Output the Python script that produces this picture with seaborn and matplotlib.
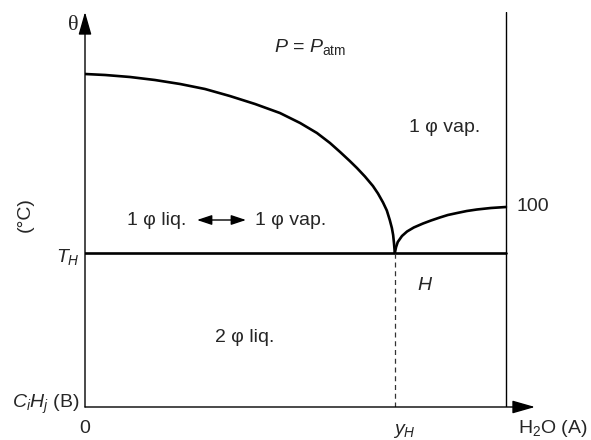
import numpy as np
import matplotlib
matplotlib.use('Agg')
import matplotlib.pyplot as plt
import seaborn as sns

sns.set_theme(style='white')
plt.rcParams['font.family'] = ['Liberation Sans', 'DejaVu Sans']
plt.rcParams['mathtext.fontset'] = 'custom'
plt.rcParams['mathtext.rm'] = 'Liberation Sans'
plt.rcParams['mathtext.it'] = 'Liberation Sans:italic'

# composition x (fraction of water, 0 = CiHj, 1 = H2O) and temperature (deg C)
dew_x_left = [0.000, 0.048, 0.107, 0.166, 0.226, 0.285, 0.344, 0.404, 0.463, 0.511, 0.551,
              0.582, 0.606, 0.629, 0.646, 0.665, 0.684, 0.696, 0.708, 0.717, 0.724, 0.729,
              0.732, 0.734, 0.736]
dew_t_left = [126.6, 126.4, 126.0, 125.4, 124.6, 123.6, 122.2, 120.6, 118.8, 116.8, 114.8,
              112.8, 111.0, 109.2, 107.8, 106.1, 104.2, 102.7, 100.9, 99.3, 97.4, 95.8,
              94.4, 92.8, 90.8]
dew_x_right = [0.736, 0.739, 0.743, 0.753, 0.765, 0.781, 0.803, 0.822, 0.843, 0.862, 0.884,
               0.907, 0.931, 0.964, 1.000]
dew_t_right = [90.8, 92.0, 93.0, 94.2, 95.1, 95.9, 96.7, 97.3, 97.9, 98.4, 98.8,
               99.2, 99.5, 99.8, 100.0]
y_H = 0.736
T_H = 90.8
t_min, t_max = 60, 139
x_max = 1.069

fig = plt.figure(figsize=(5.91, 4.40), dpi=100)
ax = fig.add_axes([85 / 591, 33 / 440, 450 / 591, 395 / 440])
ax.set_xlim(0, x_max)
ax.set_ylim(t_min, t_max)
ax.axis('off')

# courbes de rosee
line_kw = dict(sort=False, estimator=None, color='black', lw=1.9, ax=ax)
sns.lineplot(x=dew_x_left, y=dew_t_left, **line_kw)
sns.lineplot(x=dew_x_right, y=dew_t_right, **line_kw)
for ln in ax.lines:
    ln.set_solid_joinstyle('round')

# palier heteroazeotrope
ax.plot([0, 1], [T_H, T_H], color='black', lw=1.9)
ax.plot([y_H, y_H], [t_min, T_H], color='#333333', lw=0.9, ls=(0, (4, 3)))
ax.plot([1, 1], [t_min, t_max], color='black', lw=1.0)

# axes avec fleches
arrow = dict(arrowstyle='-|>,head_length=1.4,head_width=0.4', lw=1.0, color='black',
             shrinkA=0, shrinkB=0, mutation_scale=10)
ax.annotate('', xy=(0, 1), xytext=(0, 0), xycoords='axes fraction', arrowprops=arrow)
ax.annotate('', xy=(1, 0), xytext=(0, 0), xycoords='axes fraction', arrowprops=arrow)

fs = 14
def ftext(px, py, s, **kw):
    kw.setdefault('fontsize', fs)
    kw.setdefault('ha', 'center')
    kw.setdefault('va', 'center')
    fig.text(px / 591, 1 - py / 440, s, **kw)

ftext(73, 25, 'θ', family='Liberation Serif', fontsize=16)
ftext(310, 47, r'$P$ = $P_{\mathrm{atm}}$')
ftext(445, 128, '1 φ vap.')
ftext(157, 220, '1 φ liq.')
ftext(291, 220, '1 φ vap.')
ax.annotate('', xy=(246 / 591, 1 - 220 / 440), xytext=(197 / 591, 1 - 220 / 440),
            xycoords='figure fraction',
            arrowprops=dict(arrowstyle='<|-|>,head_length=0.9,head_width=0.3', lw=1.0,
                            color='black', shrinkA=0, shrinkB=0, mutation_scale=10))
ftext(25, 215, '(°C)', rotation=90)
ftext(80, 257, r'$T_H$', ha='right')
ftext(79, 404, r'$C_iH_j$ (B)', ha='right')
ftext(85, 428, '0')
ftext(404, 431, r'$y_H$')
ftext(553, 428, r'H$_2$O (A)')
ftext(516, 206, '100', ha='left')
ftext(425, 285, r'$H$')
ftext(245, 337, '2 φ liq.')

fig.savefig('out.png', dpi=100)
